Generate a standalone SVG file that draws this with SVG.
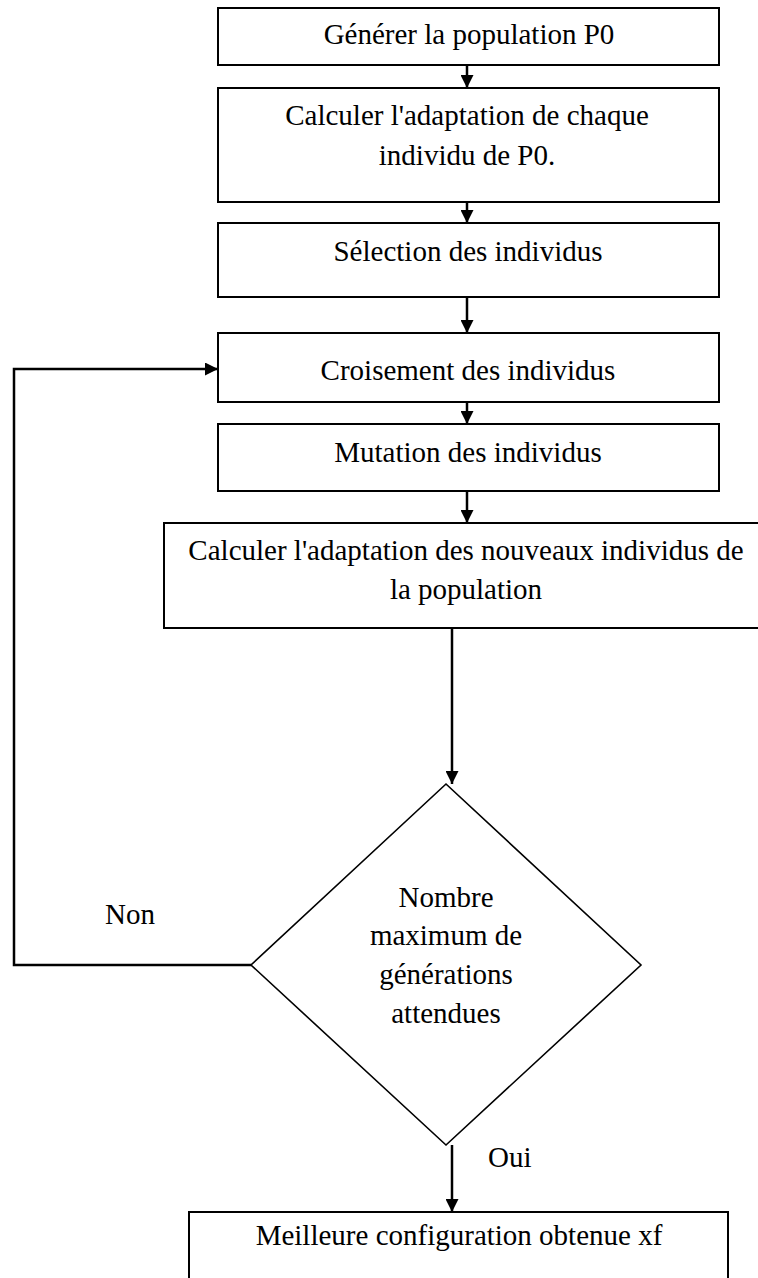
<svg xmlns="http://www.w3.org/2000/svg" width="758" height="1278" viewBox="0 0 758 1278">
<style>
.box{fill:#fff;stroke:#000;stroke-width:2}
.dia{fill:#fff;stroke:#000;stroke-width:1.6}
.t{font-family:"Liberation Serif","Times New Roman",serif;font-size:29px;fill:#000;text-anchor:middle}
.tl{font-family:"Liberation Serif","Times New Roman",serif;font-size:29px;fill:#000}
.c{fill:none;stroke:#000;stroke-width:2.5}
</style>
<defs>
<marker id="ah" markerUnits="userSpaceOnUse" markerWidth="13" markerHeight="13" refX="13" refY="6.5" orient="auto" viewBox="0 0 13 13">
<path d="M0,0 L13,6.5 L0,13 z" fill="#000"/>
</marker>
</defs>
<rect width="758" height="1278" fill="#fff"/>
<g id="n1"><rect class="box" x="218" y="8" width="501" height="57"/><text class="t" x="469" y="44">Générer la population P0</text></g>
<g id="n2"><rect class="box" x="218" y="88" width="501" height="114"/><text class="t" x="467" y="125">Calculer l'adaptation de chaque</text><text class="t" x="467" y="165">individu de P0.</text></g>
<g id="n3"><rect class="box" x="218" y="223" width="501" height="74"/><text class="t" x="468" y="261">Sélection des individus</text></g>
<g id="n4"><rect class="box" x="218" y="333" width="501" height="69"/><text class="t" x="468" y="380">Croisement des individus</text></g>
<g id="n5"><rect class="box" x="218" y="424" width="501" height="67"/><text class="t" x="468" y="462">Mutation des individus</text></g>
<g id="n6"><rect class="box" x="164" y="523" width="610" height="105"/><text class="t" x="466" y="560">Calculer l'adaptation des nouveaux individus de</text><text class="t" x="466" y="599">la population</text></g>
<g id="n7"><polygon class="dia" points="446,784 641,965 446,1145 251,965"/><text class="t" x="446" y="907">Nombre</text><text class="t" x="446" y="945">maximum de</text><text class="t" x="446" y="984">générations</text><text class="t" x="446" y="1023">attendues</text></g>
<g id="n8"><rect class="box" x="189" y="1212" width="539" height="90"/><text class="t" x="459" y="1245">Meilleure configuration obtenue xf</text></g>
<g id="connectors">
<path class="c" d="M467,65 V88" marker-end="url(#ah)"/>
<path class="c" d="M467,202 V223" marker-end="url(#ah)"/>
<path class="c" d="M467,297 V333" marker-end="url(#ah)"/>
<path class="c" d="M467,402 V424" marker-end="url(#ah)"/>
<path class="c" d="M467,491 V523" marker-end="url(#ah)"/>
<path class="c" d="M452,628 V784" marker-end="url(#ah)"/>
<path class="c" d="M452,1145 V1212" marker-end="url(#ah)"/>
<path class="c" d="M251,965 H14 V369 H218" marker-end="url(#ah)"/>
<text class="tl" x="105" y="924">Non</text>
<text class="tl" x="488" y="1167">Oui</text>
</g>
</svg>
